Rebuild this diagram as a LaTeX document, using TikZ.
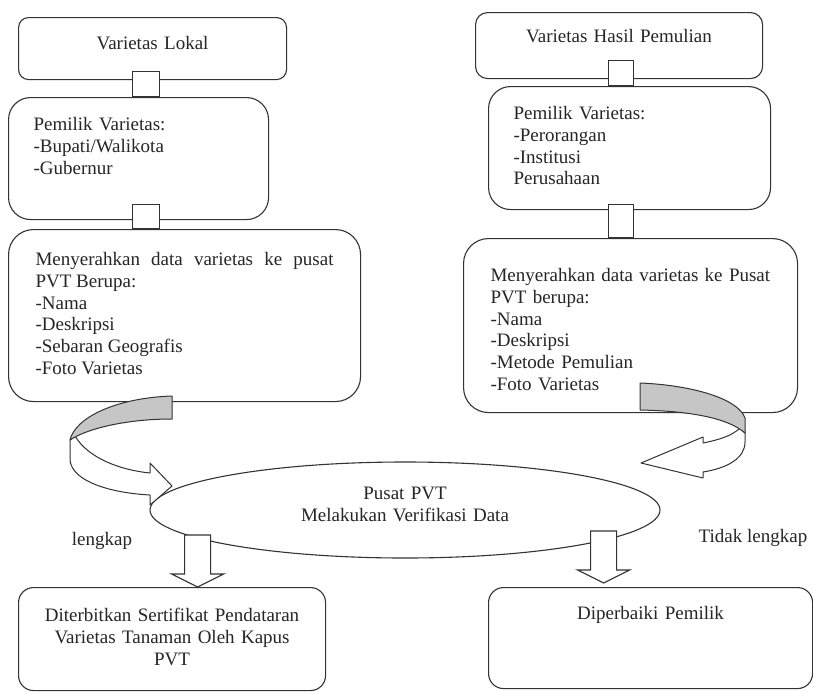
\documentclass[tikz,border=0pt]{standalone}
\usepackage{fontspec}
\setmainfont{Liberation Serif}
\usetikzlibrary{shapes.geometric,calc}
\tolerance=9999
\hyphenpenalty=10000
\newcommand{\blockdown}[1]{\draw[blk] (#1) -- ++(-26,-13) -- ++(13,0) -- ++(0,-39) -- ++(26,0) -- ++(0,39) -- ++(13,0) -- cycle;}

\begin{document}
\begin{tikzpicture}[x=1pt,y=-1pt,
  every node/.style={font=\fontsize{19pt}{21.8pt}\selectfont, text=black!85},
  box/.style={draw=black!80, line width=1.1pt, fill=white, anchor=north west, inner ysep=4pt},
  link/.style={draw=black!80, line width=1.1pt, fill=white},
  blk/.style={draw=black!80, line width=1.1pt, fill=white, line join=miter},
  ribbon/.style={draw=black!80, line width=1pt, fill=white, line join=round}]
\useasboundingbox[fill=white] (0,0) rectangle (813,691);

\node[box, rounded corners=10pt, text width=260pt, inner xsep=4pt, align=center, text height=28pt, text depth=26pt] (lokal) at (18,17) {Varietas Lokal};
\node[box, rounded corners=22pt, text width=210pt, inner xsep=25pt, align=left, text height=29pt, text depth=85pt] (pemilikL) at (8,97) {Pemilik Varietas:\\-Bupati/Walikota\\-Gubernur};
\node[box, rounded corners=25pt, text width=298pt, inner xsep=27pt, align=justify, text height=32pt, text depth=132pt] (dataL) at (8,229) {Menyerahkan data varietas ke pusat PVT Berupa:\\-Nama\\-Deskripsi\\-Sebaran Geografis\\-Foto Varietas};

\node[box, rounded corners=12pt, text width=279pt, inner xsep=4pt, align=center, text height=26pt, text depth=32pt] (hasil) at (475,12) {Varietas Hasil Pemulian};
\node[box, rounded corners=22pt, text width=232pt, inner xsep=25pt, align=left, text height=29pt, text depth=86pt] (pemilikR) at (488,86) {Pemilik Varietas:\\-Perorangan\\-Institusi\\Perusahaan};
\node[box, rounded corners=25pt, text width=280pt, inner xsep=27pt, align=left, text height=39pt, text depth=127pt] (dataR) at (463,238) {Menyerahkan data varietas ke Pusat\\PVT berupa:\\-Nama\\-Deskripsi\\-Metode Pemulian\\-Foto Varietas};

\node[box, rounded corners=15pt, text width=291pt, inner xsep=8pt, align=center, text height=30pt, text depth=65pt] (terbit) at (18,587) {Diterbitkan Sertifikat Pendataran\\Varietas Tanaman Oleh Kapus\\PVT};
\node[box, rounded corners=15pt, text width=308pt, inner xsep=8pt, align=center, text height=28pt, text depth=65pt] (perbaiki) at (488,587) {Diperbaiki Pemilik};

\node[ellipse, draw=black!80, line width=1.1pt, minimum width=510pt, minimum height=96pt, inner sep=0pt, text width=330pt, align=center, text depth=33pt] (pusat) at (405,510) {Pusat PVT\\Melakukan Verifikasi Data};

\node[anchor=base] (lengkap) at (102,545) {lengkap};
\node[anchor=base] (tidak) at (753,542) {Tidak lengkap};

\draw[link] ($(lokal.south)+(-20,-9)$) rectangle ($(pemilikL.north)+(21,0)$);
\draw[link] ($(pemilikL.south)+(-6,-16)$) rectangle ($(pemilikL.south |- dataL.north)+(21,0)$);
\draw[link] ($(hasil.south)+(-10.5,-19)$) rectangle ($(hasil.south |- pemilikR.north)+(14.5,0)$);
\draw[link] ($(pemilikR.south)+(-21,-6)$) rectangle ($(pemilikR.south |- dataR.north)+(4,0)$);

\draw[ribbon] (70,440) -- (70,460) .. controls (72,482) and (112,493) .. (150,495) -- (150,505) -- (172,486) -- (150,463) -- (150,473) .. controls (120,470) and (88,458) .. (75,436) -- cycle;
\draw[ribbon, fill=gray!45] (172,396) .. controls (115,398) and (75,418) .. (70,440) .. controls (88,428) and (128,419) .. (172,419) -- cycle;

\draw[ribbon] (745,433) -- (745,442) .. controls (745,458) and (728,468) .. (703,472) -- (703,478) -- (641,463) -- (703,437) -- (703,443) .. controls (718,440) and (732,436) .. (740,428) -- cycle;
\draw[ribbon, fill=gray!45] (640,383) .. controls (690,385) and (738,398) .. (745,418) -- (745,433) .. controls (728,418) and (690,411) .. (640,410) -- cycle;

\blockdown{$(terbit.north)+(25.5,0)$}
\blockdown{$(perbaiki.north)+(-47,-4)$}
\end{tikzpicture}
\end{document}
